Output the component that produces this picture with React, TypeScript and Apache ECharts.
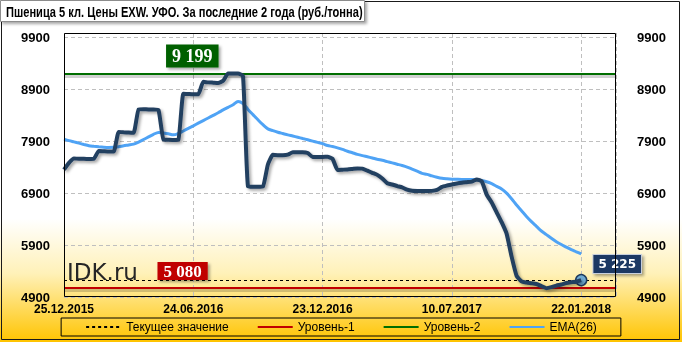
import React, { useEffect, useRef } from 'react';
import * as echarts from 'echarts';

const chartTitle = 'Пшеница 5 кл. Цены EXW. УФО. За последние 2 года (руб./тонна)';
const watermark = 'IDK.ru';
const tickLabels = ['25.12.2015', '24.06.2016', '23.12.2016', '10.07.2017', '22.01.2018'];
const tickStep = 26;
const xMax = 111;
const yMin = 4900;
const yMax = 9980;
const yStep = 1000;

const priceValues = [
  7350, 7480, 7565, 7560, 7560, 7555, 7560, 7710, 7705, 7700,
  7700, 8075, 8070, 8065, 8060, 8510, 8515, 8510, 8510, 8500,
  7930, 7925, 7920, 7925, 8810, 8805, 8800, 8800, 9040, 9030,
  9025, 9020, 9060, 9199, 9199, 9199, 9150, 7025, 7020, 7020,
  7025, 7450, 7635, 7630, 7630, 7640, 7685, 7685, 7685, 7670,
  7595, 7595, 7595, 7598, 7560, 7345, 7350, 7355, 7365, 7375,
  7370, 7330, 7290, 7250, 7180, 7090, 7065, 7035, 7010, 6965,
  6945, 6940, 6938, 6940, 6942, 6960, 7020, 7045, 7065, 7085,
  7100, 7110, 7120, 7160, 7125, 6870, 6720, 6530, 6340, 6120,
  5680, 5310, 5200, 5178, 5165, 5150, 5110, 5070, 5090, 5120,
  5140, 5170, 5185, 5195, 5225,
];

const emaValues = [
  7938, 7910, 7885, 7860, 7835, 7812, 7800, 7790, 7782, 7778,
  7780, 7790, 7810, 7825, 7842, 7880, 7930, 7980, 8030, 8067,
  8055, 8040, 8020, 8047, 8095, 8145, 8194, 8245, 8295, 8345,
  8395, 8445, 8500, 8550, 8600, 8660, 8620, 8510, 8410, 8310,
  8215, 8135, 8100, 8070, 8045, 8020, 7998, 7975, 7950, 7925,
  7900, 7875, 7850, 7815, 7795, 7770, 7740, 7705, 7675, 7645,
  7620, 7598, 7575, 7550, 7530, 7505, 7480, 7455, 7430, 7400,
  7360, 7320, 7280, 7260, 7230, 7205, 7185, 7175, 7168, 7165,
  7163, 7163, 7160, 7155, 7140, 7118, 7080, 7030, 6980, 6900,
  6790, 6670, 6560, 6450, 6350, 6260, 6170, 6100, 6030, 5965,
  5910, 5860, 5810, 5770, 5730,
];

const level1 = 5080;
const level2 = 9199;
const currentValue = 5225;
const level1LabelAt = 23.85;
const level2LabelAt = 25.8;

const RED = '#C00000';
const GREEN = '#006E00';
const BLUE = '#4FA3F5';
const NAVY = '#243F60';

const fmt = (v: number) => String(v).replace(/\B(?=(\d{3})+(?!\d))/g, ' ');

export default function App() {
  const ref = useRef<HTMLDivElement>(null);
  useEffect(() => {
    const chart = echarts.init(ref.current!, null, { renderer: 'svg' });

    const titleFont = 'bold 15px "Liberation Sans"';
    let titleScale = 1;
    try {
      const ctx = document.createElement('canvas').getContext('2d')!;
      ctx.font = titleFont;
      const w = ctx.measureText(chartTitle).width;
      titleScale = 357 / w;
    } catch (e) {
      titleScale = 1;
    }

    const shadow = {
      shadowColor: 'rgba(0,0,0,0.35)',
      shadowBlur: 3,
      shadowOffsetX: 2,
      shadowOffsetY: 2,
    };

    // ~2.5px below a level line, in axis units, for a soft drop shadow
    const shadowGap = 48;

    const axisFont = { fontFamily: 'Liberation Sans', fontWeight: 'bold' as const, color: '#000' };

    const option: any = {
      animation: false,
      backgroundColor: 'transparent',
      textStyle: { fontFamily: 'Liberation Sans' },
      grid: { left: 64, right: 66, top: 33, bottom: 45 },
      xAxis: {
        type: 'value',
        min: 0,
        max: xMax,
        interval: tickStep,
        axisLine: { show: false },
        axisTick: { show: false },
        axisLabel: {
          ...axisFont,
          fontSize: 12,
          margin: 6,
          showMaxLabel: false,
          formatter: (v: number) => (v % tickStep === 0 && tickLabels[v / tickStep]) || '',
        },
        splitLine: { show: true, lineStyle: { color: '#BFBFBF', type: [4, 3], width: 1 } },
      },
      yAxis: [
        {
          type: 'value',
          min: yMin,
          max: yMax,
          interval: yStep,
          axisLine: { show: false },
          axisTick: { show: false },
          axisLabel: {
            ...axisFont,
            fontSize: 13,
            margin: 14,
            formatter: (v: number) => ((v - yMin) % yStep === 0 ? String(v) : ''),
          },
          splitLine: { show: true, lineStyle: { color: '#BFBFBF', type: [4, 3], width: 1 } },
        },
        {
          type: 'value',
          min: yMin,
          max: yMax,
          interval: yStep,
          position: 'right',
          axisLine: { show: false },
          axisTick: { show: false },
          axisLabel: {
            ...axisFont,
            fontSize: 13,
            margin: 21,
            formatter: (v: number) => ((v - yMin) % yStep === 0 ? String(v) : ''),
          },
          splitLine: { show: false },
        },
      ],
      legend: {
        data: ['Текущее значение', 'Уровень-1', 'Уровень-2', 'EMA(26)'],
        left: 'center',
        top: 318,
        itemWidth: 35,
        itemHeight: 12,
        itemGap: 28,
        padding: [3, 24],
        borderColor: '#000',
        borderWidth: 1,
        itemStyle: { color: 'rgba(0,0,0,0)', borderWidth: 0, opacity: 0 },
        textStyle: { fontSize: 12, color: '#000', fontFamily: 'Liberation Sans' },
      },
      graphic: [
        {
          type: 'rect',
          z: -10,
          silent: true,
          shape: { x: 0, y: 0, width: 682, height: 342 },
          style: {
            fill: new echarts.graphic.LinearGradient(0, 0, 0, 1, [
              { offset: 0, color: '#FFFFFF' },
              { offset: 0.64, color: '#FFFFFF' },
              { offset: 0.8, color: '#FFF1B8' },
              { offset: 1, color: '#FFC400' },
            ]),
          },
        },
        {
          type: 'rect',
          z: 20,
          silent: true,
          shape: { x: 1.5, y: 1.5, width: 678, height: 338 },
          style: { fill: 'none', stroke: '#1a1a1a', lineWidth: 1 },
        },
        {
          type: 'rect',
          z: 20,
          silent: true,
          shape: { x: 64.5, y: 33.5, width: 551, height: 263 },
          style: { fill: 'none', stroke: '#000', lineWidth: 1 },
        },
        {
          type: 'rect',
          z: 30,
          silent: true,
          shape: { x: 0.5, y: 0.5, width: 364, height: 21 },
          style: {
            fill: '#fff',
            stroke: '#8c8c8c',
            lineWidth: 1,
            shadowColor: 'rgba(0,0,0,0.35)',
            shadowBlur: 3,
            shadowOffsetX: 2,
            shadowOffsetY: 2,
          },
        },
        {
          type: 'text',
          z: 31,
          silent: true,
          x: 6,
          y: 11.5,
          scaleX: titleScale,
          style: {
            text: chartTitle,
            font: titleFont,
            fill: '#000',
            verticalAlign: 'middle',
          },
        },
        {
          type: 'text',
          z: 25,
          silent: true,
          x: 67,
          y: 272,
          style: {
            text: watermark,
            font: '23px "DejaVu Sans"',
            fill: '#262626',
            verticalAlign: 'middle',
          },
        },
      ],
      series: [
        {
          name: 'Уровень-1',
          type: 'line',
          data: [],
          z: 2,
          symbol: 'none',
          color: RED,
          lineStyle: { color: RED, width: 3 },
          markPoint: {
            silent: true,
            symbol: 'rect',
            symbolSize: 1,
            itemStyle: { color: 'rgba(0,0,0,0)' },
            label: {
              show: true,
              position: 'inside',
              offset: [0, -16.6],
              formatter: fmt(level1),
              backgroundColor: RED,
              color: '#fff',
              fontFamily: 'Liberation Serif',
              fontWeight: 'bold',
              fontSize: 17,
              lineHeight: 18,
              padding: [0, 6, 0, 6],
              ...shadow,
            },
            data: [{ coord: [level1LabelAt, level1] }],
          },
        },
        {
          name: 'Уровень-2',
          type: 'line',
          data: [],
          z: 2,
          symbol: 'none',
          color: GREEN,
          lineStyle: { color: GREEN, width: 3 },
          markPoint: {
            silent: true,
            symbol: 'rect',
            symbolSize: 1,
            itemStyle: { color: 'rgba(0,0,0,0)' },
            label: {
              show: true,
              position: 'inside',
              offset: [0, -17.5],
              formatter: fmt(level2),
              backgroundColor: '#006100',
              color: '#fff',
              fontFamily: 'Liberation Serif',
              fontWeight: 'bold',
              fontSize: 18,
              lineHeight: 21,
              padding: [1, 6, 1, 6],
              ...shadow,
            },
            data: [{ coord: [level2LabelAt, level2] }],
          },
        },
        {
          name: 'Текущее значение',
          type: 'line',
          data: [],
          z: 3,
          symbol: 'none',
          color: '#000',
          lineStyle: { color: '#000', width: 1, type: [3, 3] },
        },
        {
          name: 'EMA(26)',
          type: 'line',
          z: 4,
          symbol: 'none',
          smooth: 0.3,
          color: BLUE,
          lineStyle: { color: BLUE, width: 3 },
          data: emaValues.map((v, i) => [i, v]),
          markLine: {
            silent: true,
            symbol: ['none', 'none'],
            label: { show: false },
            data: [
              { yAxis: level1 - shadowGap, lineStyle: { color: 'rgba(0,0,0,0.18)', width: 3, type: 'solid' } },
              { yAxis: level2 - shadowGap, lineStyle: { color: 'rgba(0,0,0,0.18)', width: 3, type: 'solid' } },
              { yAxis: level1, lineStyle: { color: RED, width: 2, type: 'solid' } },
              { yAxis: level2, lineStyle: { color: GREEN, width: 2, type: 'solid' } },
              { yAxis: currentValue, lineStyle: { color: '#000', width: 1, type: [3, 3] } },
            ],
          },
        },
        {
          name: 'Пшеница',
          type: 'line',
          z: 5,
          symbol: 'none',
          smooth: 0.15,
          color: NAVY,
          lineStyle: { color: NAVY, width: 4, ...shadow },
          data: priceValues.map((v, i) => [i, v]),
          markPoint: {
            silent: true,
            data: [
              {
                coord: [priceValues.length - 1, currentValue],
                symbol: 'circle',
                symbolSize: 11,
                itemStyle: { color: '#6FAAD2', borderColor: '#1F3B5E', borderWidth: 1.5 },
                label: { show: false },
              },
              {
                coord: [priceValues.length - 1, currentValue],
                symbol: 'rect',
                symbolSize: 1,
                itemStyle: { color: 'rgba(0,0,0,0)' },
                label: {
                  show: true,
                  position: 'inside',
                  offset: [36, -16],
                  formatter: fmt(currentValue),
                  backgroundColor: '#1F3864',
                  borderColor: '#C8D0DC',
                  borderWidth: 1,
                  color: '#fff',
                  fontFamily: 'DejaVu Sans',
                  fontWeight: 'bold',
                  fontSize: 12,
                  lineHeight: 16,
                  padding: [1, 5, 1, 5],
                  ...shadow,
                },
              },
            ],
          },
        },
      ],
    };

    chart.setOption(option);
    return () => chart.dispose();
  }, []);

  return (
    <div
      ref={ref}
      style={{ position: 'fixed', left: 0, top: 0, width: 682, height: 342 }}
    />
  );
}
